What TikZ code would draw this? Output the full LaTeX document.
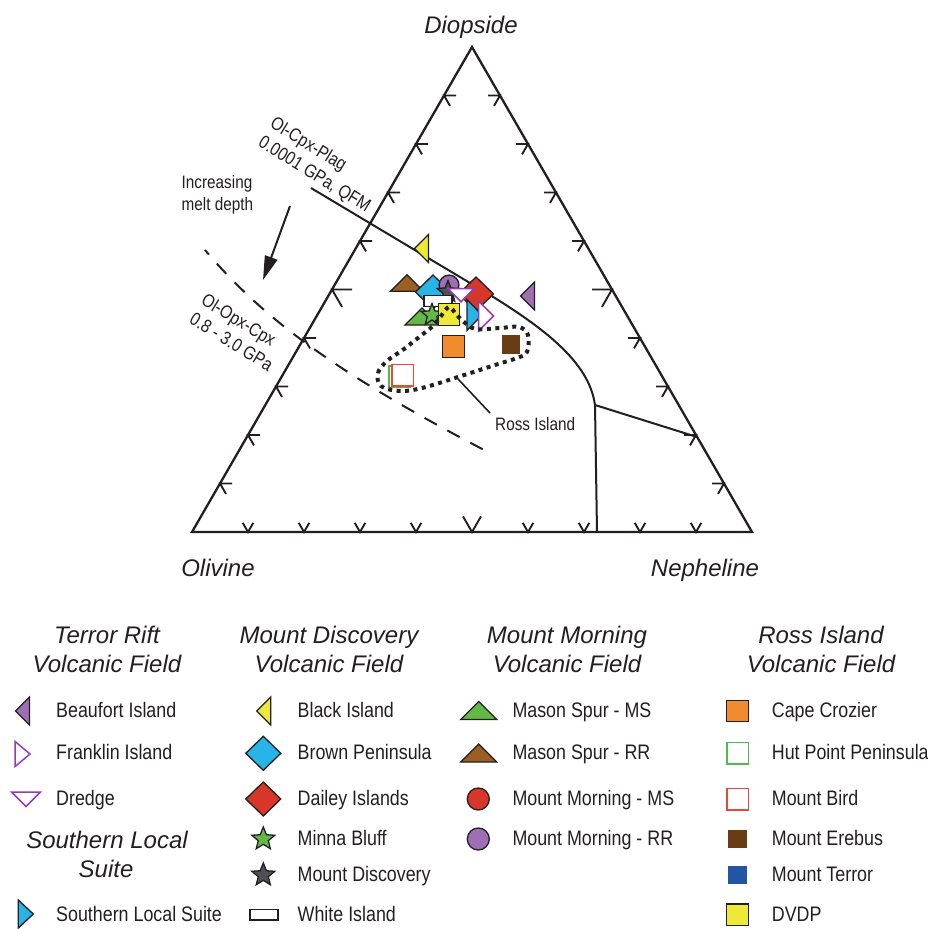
\documentclass[tikz,border=0pt]{standalone}
\usepackage{fontspec}
\setmainfont{Liberation Sans}
\newfontfamily\condf{Liberation Sans}[FakeStretch=0.85]
\usetikzlibrary{arrows.meta,shapes.geometric}
\definecolor{txt}{RGB}{35,31,32}
\definecolor{purpleF}{RGB}{160,110,180}
\definecolor{purpleO}{RGB}{150,60,175}
\definecolor{yellowF}{RGB}{238,232,55}
\definecolor{blueF}{RGB}{40,180,230}
\definecolor{redF}{RGB}{215,55,40}
\definecolor{greenF}{RGB}{100,185,70}
\definecolor{greyF}{RGB}{78,80,85}
\definecolor{brownF}{RGB}{155,95,35}
\definecolor{orangeF}{RGB}{240,140,45}
\definecolor{hutG}{RGB}{80,185,75}
\definecolor{birdR}{RGB}{235,70,55}
\definecolor{erebusB}{RGB}{105,60,20}
\definecolor{terrorB}{RGB}{35,85,165}
\tikzset{
  edgeline/.style={line width=2.3pt, draw=txt, line join=miter},
  tickline/.style={line width=1.9pt, draw=txt},
  bnd/.style={line width=2pt, draw=txt},
  mk/.style={draw=txt, line width=1.3pt, line join=miter},
  openmk/.style={line width=1.5pt, fill=white},
  lbl/.style={font=\condf\fontsize{21}{25}\selectfont, text=txt, anchor=base west, inner sep=0pt},
  hd/.style={font=\itshape\fontsize{24}{29}\selectfont, text=txt, anchor=base, inner sep=0pt},
  ann/.style={font=\condf\fontsize{18}{22}\selectfont, text=txt, inner sep=0pt},
  rot/.style={font=\condf\fontsize{18.5}{22.5}\selectfont, text=txt, inner sep=0pt, align=left, rotate=-31.5, anchor=north west},
}
\newcommand\mkL[3]{\path[shift={(#1,#2)},mk,#3] (-7,0) -- (7,-14) -- (7,14) -- cycle;}
\newcommand\mkR[3]{\path[shift={(#1,#2)},mk,#3] (-7.5,-14) -- (7.5,0) -- (-7.5,14) -- cycle;}
\newcommand\mkD[3]{\path[shift={(#1,#2)},mk,#3] (-14.5,-7) -- (14.5,-7) -- (0,7.5) -- cycle;}
\newcommand\mkU[3]{\path[shift={(#1,#2)},mk,#3] (-18,9) -- (18,9) -- (0,-9) -- cycle;}
\newcommand\mkDia[3]{\path[shift={(#1,#2)},mk,#3] (0,-17) -- (17.5,0) -- (0,17) -- (-17.5,0) -- cycle;}
\newcommand\mkSq[3]{\path[shift={(#1,#2)},mk,#3] (-10.75,-10.75) rectangle (10.75,10.75);}
\newcommand\mkSSq[3]{\path[shift={(#1,#2)},#3] (-9.25,-9.25) rectangle (9.25,9.25);}
\newcommand\mkRect[3]{\path[shift={(#1,#2)},mk,#3] (-14,-5.25) rectangle (14,5.25);}
\newcommand\mkC[3]{\path[shift={(#1,#2)},mk,#3] (0,0) circle (11);}
\newcommand\mkS[3]{\path[shift={(#1,#2)},mk,#3] (-90:12) -- (-54:5.3) -- (-18:12) -- (18:5.3) -- (54:12) -- (90:5.3) -- (126:12) -- (162:5.3) -- (198:12) -- (234:5.3) -- cycle;}
\begin{document}
\begin{tikzpicture}[x=1pt,y=-1pt]
\useasboundingbox (0,0) rectangle (928,929);
% triangle
\coordinate (O) at (192,532);
\coordinate (N) at (752,532);
\coordinate (D) at (472,47);
% ticks
\foreach \k in {1,...,9}{
  \pgfmathsetmacro\len{ifthenelse(\k==5,20,12)}
  \pgfmathsetmacro\blen{ifthenelse(\k==5,18,10.5)}
  \coordinate (L\k) at ({192+28*\k},{532-48.5*\k});
  \coordinate (R\k) at ({752-28*\k},{532-48.5*\k});
  \coordinate (B\k) at ({192+56*\k},532);
  \draw[tickline] (L\k) ++({\len},0) -- (L\k) -- ++({0.5*\len},{0.866*\len});
  \draw[tickline] (R\k) ++({-\len},0) -- (R\k) -- ++({-0.5*\len},{0.866*\len});
  \draw[tickline] (B\k) ++({-0.5*\blen},{-0.866*\blen}) -- (B\k) -- ++({0.5*\blen},{-0.866*\blen});
}
\draw[edgeline] (O) -- (D) -- (N) -- cycle;
% boundaries
\coordinate (P1) at (311,188);
\coordinate (P2) at (470,283);
\coordinate (J) at (595,405);
\coordinate (RE) at (697,437);
\coordinate (BE) at (597,532);
\draw[bnd] (P1) -- (P2) .. controls (545,327) and (589,362) .. (J);
\draw[bnd] (J) -- (RE);
\draw[bnd] (J) -- (BE);
\coordinate (Q1) at (205,250);
\coordinate (Q2) at (488,452);
\draw[bnd, dash pattern=on 14pt off 12pt, dash phase=8pt] (Q1) .. controls (260,315) and (330,370) .. (Q2);
% arrow
\coordinate (A1) at (290,206);
\coordinate (A2) at (263,280);
\draw[line width=2pt, draw=txt, -{Triangle[length=24pt,width=13pt]}] (A1) -- (A2);
% labels in plot
\node[hd] (diop) at (471,33) {Diopside};
\node[hd] (oliv) at (218,576) {Olivine};
\node[hd] (neph) at (705,576) {Nepheline};
\node[ann, anchor=base west] (inc1) at (181.5,188.5) {Increasing};
\node[ann, anchor=base west] (inc2) at (181.5,210.5) {melt depth};
\node[rot] (plag) at (276,115) {Ol-Cpx-Plag\\0.0001 GPa, QFM};
\node[rot] (opx) at (207,292) {Ol-Opx-Cpx\\0.8 - 3.0 GPa};
% data
\mkU{407}{283}{fill=brownF, scale=0.92}
\mkDia{433}{292}{fill=blueF}
\mkC{449}{285}{fill=purpleF, scale=0.9}
\mkS{448}{292}{fill=greyF, scale=0.95}
\mkDia{476}{294}{fill=redF}
\mkR{474.5}{315}{fill=blueF, yscale=1.1}
\mkD{461}{295}{draw=purpleO, openmk, scale=0.9}
\mkRect{438}{301}{fill=white}
\mkU{422}{316.5}{fill=greenF, scale=0.95}
\mkS{432}{315}{fill=greenF, scale=0.95}
\mkSq{449}{314.5}{fill=yellowF}
\mkR{486}{316}{draw=purpleO, openmk, yscale=1.07}
\mkL{527.5}{296}{fill=purpleF}
\mkL{421.5}{248.5}{fill=yellowF}
\mkSq{453.5}{346.5}{fill=orangeF}
\mkSSq{511}{344.5}{fill=erebusB}
\mkSq{399.5}{376.5}{draw=hutG, openmk}
\mkSq{402.5}{375}{draw=birdR, openmk}
% Ross Island field
\draw[line width=4pt, draw=txt, dash pattern=on 4pt off 4.5pt] plot[smooth cycle, tension=0.6] coordinates {(381,386) (378,373) (387,361) (404,349) (423,334) (433,326) (441,316) (449,307) (456,314) (464,322) (476,329) (500,328) (519,327) (528,335) (527,352) (517,358) (495,365) (458,377) (422,388) (400,391)};
\node[ann, anchor=base west] (ri) at (495,430) {Ross Island};
\coordinate (rip) at (458,379);
\coordinate (rie) at (490,413);
\draw[line width=1.6pt, draw=txt] (rip) -- (rie);
% legend headings
\node[hd] (h1a) at (107,643) {Terror Rift};
\node[hd] (h1b) at (107,672) {Volcanic Field};
\node[hd] (h5a) at (107,848) {Southern Local};
\node[hd] (h5b) at (106,877) {Suite};
\node[hd] (h2a) at (329,643) {Mount Discovery};
\node[hd] (h2b) at (329,672) {Volcanic Field};
\node[hd] (h3a) at (567,643) {Mount Morning};
\node[hd] (h3b) at (567,672) {Volcanic Field};
\node[hd] (h4a) at (821,643) {Ross Island};
\node[hd] (h4b) at (821,672) {Volcanic Field};
% legend col 1
\mkL{22.5}{711}{fill=purpleF}
\mkR{22.5}{754}{draw=purpleO, openmk, yscale=0.9}
\mkD{26}{799}{draw=purpleO, openmk}
\mkR{25.8}{914}{fill=blueF}
\node[lbl] (t1) at (56,717) {Beaufort Island};
\node[lbl] (t2) at (56,759.5) {Franklin Island};
\node[lbl] (t3) at (56,805) {Dredge};
\node[lbl] (t4) at (56,921.5) {Southern Local Suite};
% legend col 2
\mkL{263.7}{711}{fill=yellowF}
\mkDia{263.3}{753.3}{fill=blueF}
\mkDia{263.3}{799}{fill=redF}
\mkS{263.3}{839}{fill=greenF}
\mkS{263.3}{875}{fill=greyF}
\mkRect{264}{914.7}{fill=white}
\node[lbl] (t5) at (297.5,717) {Black Island};
\node[lbl] (t6) at (297.5,759.5) {Brown Peninsula};
\node[lbl] (t7) at (297.5,805) {Dailey Islands};
\node[lbl] (t8) at (297.5,845) {Minna Bluff};
\node[lbl] (t9) at (297.5,881) {Mount Discovery};
\node[lbl] (t10) at (297.5,921.5) {White Island};
% legend col 3
\mkU{478.7}{710.5}{fill=greenF}
\mkU{478.7}{753}{fill=brownF}
\mkC{478.3}{799}{fill=redF}
\mkC{478.3}{839}{fill=purpleF}
\node[lbl] (t11) at (512.3,717) {Mason Spur - MS};
\node[lbl] (t12) at (512.3,759.5) {Mason Spur - RR};
\node[lbl] (t13) at (512.3,805) {Mount Morning - MS};
\node[lbl] (t14) at (512.3,845) {Mount Morning - RR};
% legend col 4
\mkSq{737.5}{711}{fill=orangeF}
\mkSq{737.5}{753.3}{draw=hutG, openmk}
\mkSq{737.5}{799}{draw=birdR, openmk}
\mkSSq{737.5}{839}{fill=erebusB}
\mkSSq{737.5}{875}{fill=terrorB}
\mkSq{737.5}{914.7}{fill=yellowF}
\node[lbl] (t15) at (771.7,717) {Cape Crozier};
\node[lbl] (t16) at (771.7,759.5) {Hut Point Peninsula};
\node[lbl] (t17) at (771.7,805) {Mount Bird};
\node[lbl] (t18) at (771.7,845) {Mount Erebus};
\node[lbl] (t19) at (771.7,881) {Mount Terror};
\node[lbl] (t20) at (771.7,921.5) {DVDP};
\end{tikzpicture}
\end{document}
